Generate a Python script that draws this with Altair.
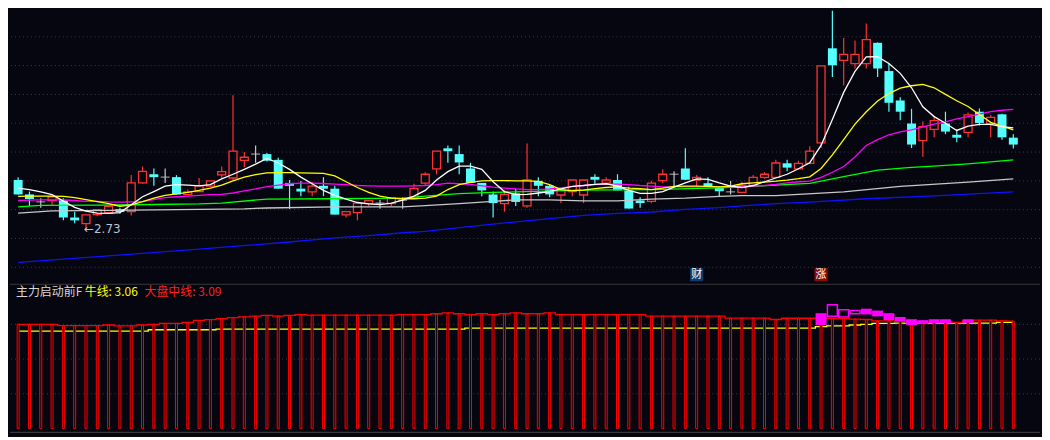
import altair as alt
import pandas as pd

BG = "#05060f"
RED = "#ff3232"
CYAN = "#54ffff"
DOJI = "#c8c8c8"
W, H_TOP, H_BOT = 1034, 272, 152
X_DOM = [-0.28, 89.92]
Y_TOP = [2.55, 3.49]
Y_BOT = [-0.193, 4.171]

# ---- daily candles (price) ----
open_ = [2.903, 2.853, 2.827, 2.832, 2.833, 2.773, 2.752, 2.783, 2.790, 2.802,
         2.793, 2.893, 2.923, 2.913, 2.913, 2.852, 2.863, 2.882, 2.921, 2.910,
         2.971, 2.993, 2.993, 2.973, 2.893, 2.873, 2.862, 2.883, 2.873, 2.782,
         2.790, 2.821, 2.823, 2.821, 2.833, 2.840, 2.892, 2.942, 3.013, 2.993,
         2.943, 2.893, 2.853, 2.821, 2.857, 2.813, 2.900, 2.883, 2.851, 2.863,
         2.851, 2.914, 2.892, 2.903, 2.867, 2.832, 2.829, 2.901, 2.923, 2.943,
         2.903, 2.892, 2.876, 2.862, 2.860, 2.884, 2.912, 2.912, 2.961, 2.942,
         2.961, 3.032, 3.360, 3.318, 3.307, 3.307, 3.379, 3.281, 3.179, 3.099,
         3.040, 3.079, 3.099, 3.060, 3.068, 3.140, 3.099, 3.131, 3.050]
close = [2.853, 2.837, 2.827, 2.845, 2.773, 2.763, 2.782, 2.800, 2.812, 2.792,
         2.893, 2.933, 2.913, 2.913, 2.853, 2.862, 2.883, 2.900, 2.932, 3.003,
         2.982, 2.993, 2.970, 2.873, 2.883, 2.863, 2.882, 2.873, 2.783, 2.793,
         2.823, 2.832, 2.823, 2.842, 2.833, 2.873, 2.923, 3.003, 3.003, 2.964,
         2.893, 2.867, 2.823, 2.853, 2.827, 2.903, 2.883, 2.853, 2.868, 2.903,
         2.903, 2.904, 2.903, 2.867, 2.804, 2.823, 2.892, 2.923, 2.923, 2.904,
         2.912, 2.879, 2.864, 2.862, 2.884, 2.912, 2.923, 2.962, 2.946, 2.961,
         3.003, 3.299, 3.301, 3.339, 3.339, 3.390, 3.290, 3.171, 3.140, 3.026,
         3.088, 3.109, 3.071, 3.050, 3.129, 3.101, 3.120, 3.051, 3.026]
high = [2.913, 2.863, 2.840, 2.845, 2.840, 2.793, 2.782, 2.800, 2.812, 2.807,
        2.920, 2.950, 2.943, 2.943, 2.920, 2.870, 2.910, 2.900, 2.950, 3.197,
        3.000, 3.023, 2.997, 2.980, 2.903, 2.900, 2.897, 2.913, 2.883, 2.793,
        2.823, 2.833, 2.834, 2.843, 2.843, 2.890, 2.930, 3.003, 3.023, 3.023,
        2.963, 2.893, 2.863, 2.867, 2.873, 3.030, 2.913, 2.887, 2.870, 2.903,
        2.903, 2.923, 2.913, 2.923, 2.880, 2.843, 2.900, 2.940, 2.933, 3.013,
        2.920, 2.913, 2.880, 2.900, 2.897, 2.920, 2.931, 2.973, 2.973, 2.970,
        3.020, 3.299, 3.490, 3.396, 3.387, 3.446, 3.380, 3.307, 3.190, 3.150,
        3.107, 3.126, 3.140, 3.079, 3.137, 3.151, 3.129, 3.133, 3.062]
low = [2.853, 2.813, 2.807, 2.817, 2.763, 2.753, 2.730, 2.777, 2.790, 2.787,
       2.780, 2.890, 2.883, 2.893, 2.853, 2.850, 2.863, 2.880, 2.907, 2.903,
       2.947, 2.963, 2.967, 2.873, 2.803, 2.847, 2.847, 2.847, 2.783, 2.773,
       2.763, 2.813, 2.803, 2.813, 2.803, 2.840, 2.883, 2.923, 2.963, 2.923,
       2.893, 2.847, 2.773, 2.793, 2.813, 2.807, 2.847, 2.843, 2.823, 2.847,
       2.823, 2.890, 2.890, 2.867, 2.804, 2.807, 2.823, 2.893, 2.880, 2.903,
       2.880, 2.877, 2.847, 2.853, 2.860, 2.883, 2.907, 2.910, 2.933, 2.940,
       2.960, 3.014, 3.260, 3.231, 3.290, 3.290, 3.260, 3.140, 3.110, 3.014,
       2.984, 3.051, 3.062, 3.034, 3.051, 3.092, 3.051, 3.043, 3.012]

# ---- moving averages (price), one value per candle ----
ma_white = [2.875, 2.870, 2.862, 2.852, 2.830, 2.808, 2.795, 2.788, 2.787, 2.790,
            2.817, 2.845, 2.863, 2.882, 2.887, 2.885, 2.883, 2.887, 2.907, 2.923,
            2.940, 2.958, 2.978, 2.962, 2.940, 2.913, 2.890, 2.867, 2.850, 2.837,
            2.825, 2.820, 2.818, 2.823, 2.833, 2.847, 2.867, 2.903, 2.932, 2.951,
            2.951, 2.940, 2.897, 2.863, 2.852, 2.853, 2.858, 2.863, 2.872, 2.881,
            2.884, 2.888, 2.890, 2.882, 2.867, 2.857, 2.857, 2.863, 2.878, 2.893,
            2.907, 2.905, 2.893, 2.882, 2.877, 2.884, 2.897, 2.910, 2.923, 2.942,
            2.963, 3.023, 3.113, 3.207, 3.280, 3.330, 3.331, 3.307, 3.273, 3.223,
            3.157, 3.123, 3.100, 3.075, 3.090, 3.096, 3.096, 3.088, 3.084]
ma_yellow = [2.846, 2.847, 2.847, 2.847, 2.846, 2.842, 2.835, 2.828, 2.821, 2.812,
             2.817, 2.828, 2.840, 2.850, 2.855, 2.860, 2.867, 2.875, 2.885, 2.900,
             2.913, 2.922, 2.928, 2.929, 2.929, 2.928, 2.927, 2.926, 2.917, 2.897,
             2.877, 2.860, 2.847, 2.840, 2.838, 2.838, 2.840, 2.847, 2.870, 2.887,
             2.895, 2.900, 2.901, 2.901, 2.900, 2.900, 2.898, 2.887, 2.870, 2.866,
             2.868, 2.873, 2.877, 2.879, 2.875, 2.873, 2.870, 2.875, 2.881, 2.882,
             2.882, 2.881, 2.879, 2.882, 2.890, 2.893, 2.896, 2.899, 2.903, 2.908,
             2.914, 2.943, 2.990, 3.043, 3.097, 3.140, 3.177, 3.203, 3.222, 3.230,
             3.235, 3.223, 3.200, 3.178, 3.158, 3.130, 3.103, 3.090, 3.077]
ma_magenta = [2.832, 2.833, 2.834, 2.834, 2.834, 2.832, 2.829, 2.829, 2.827, 2.826,
              2.827, 2.828, 2.835, 2.842, 2.845, 2.847, 2.850, 2.852, 2.853, 2.858,
              2.865, 2.872, 2.880, 2.885, 2.890, 2.892, 2.892, 2.891, 2.889, 2.887,
              2.884, 2.883, 2.882, 2.882, 2.882, 2.883, 2.884, 2.887, 2.892, 2.890,
              2.888, 2.883, 2.878, 2.875, 2.872, 2.870, 2.870, 2.872, 2.876, 2.880,
              2.884, 2.887, 2.889, 2.889, 2.887, 2.884, 2.882, 2.879, 2.879, 2.879,
              2.879, 2.879, 2.879, 2.880, 2.881, 2.882, 2.884, 2.888, 2.893, 2.897,
              2.899, 2.912, 2.930, 2.950, 2.983, 3.023, 3.043, 3.060, 3.070, 3.077,
              3.087, 3.097, 3.105, 3.115, 3.123, 3.132, 3.140, 3.145, 3.148]
# slow averages read at a few candles
green_idx = [0, 2, 7, 12, 16, 18, 22, 28, 34, 36, 39, 42, 44, 50, 56, 62, 67, 70, 73, 76, 79, 81, 84, 88]
ma_green = [2.810, 2.815, 2.816, 2.818, 2.820, 2.823, 2.837, 2.838, 2.840, 2.847, 2.856, 2.860,
            2.862, 2.868, 2.870, 2.876, 2.885, 2.891, 2.915, 2.937, 2.947, 2.951, 2.959, 2.973]
gray_idx = [0, 3, 8, 20, 22, 28, 34, 36, 39, 42, 44, 47, 50, 53, 56, 59, 62, 64, 67, 73, 78, 84, 88]
ma_gray = [2.788, 2.796, 2.798, 2.803, 2.806, 2.810, 2.810, 2.814, 2.821, 2.829, 2.834, 2.834,
           2.831, 2.831, 2.837, 2.840, 2.846, 2.849, 2.849, 2.862, 2.881, 2.896, 2.907]
blue_idx = [0, 8, 16, 24, 28, 31, 34, 36, 39, 42, 44, 50, 53, 56, 59, 62, 64, 67, 70, 75, 81, 88]
ma_blue = [2.617, 2.640, 2.663, 2.688, 2.702, 2.710, 2.720, 2.725, 2.738, 2.750, 2.758,
           2.780, 2.787, 2.792, 2.801, 2.807, 2.813, 2.821, 2.826, 2.838, 2.848, 2.862]

grid_top = [2.6, 2.7, 2.8, 2.9, 3.0, 3.1, 3.2, 3.3, 3.4]
events_idx = [60, 71]
events_txt = ["财", "涨"]
events_col = ["#0c3c70", "#8c0a0a"]

# ---- lower indicator panel ----
dapan = ([3.003] * 4 + [2.964] * 4 + [2.983, 2.956, 2.956, 2.983, 3.003, 3.030, 3.030, 3.058,
         3.113, 3.135, 3.169, 3.196, 3.218, 3.240, 3.260, 3.240, 3.260, 3.279]
         + [3.27] * 8 + [3.279, 3.279, 3.279, 3.307, 3.334, 3.307, 3.279, 3.307, 3.279, 3.307,
         3.334, 3.307, 3.307, 3.334] + [3.28] * 8 + [3.24] * 7 + [3.18] * 4
         + [3.141, 3.177, 3.177, 3.177, 3.177, 3.169, 3.169, 3.149, 3.141, 3.102, 3.102, 3.086,
            3.066, 3.058, 3.058, 3.058, 3.058, 3.102, 3.122, 3.122, 3.102, 3.09])
bull = ([2.804] * 12 + [2.845] * 6 + [2.865] * 22 + [2.892] * 31
        + [2.936, 2.956, 2.956, 2.983, 3.003, 3.030, 3.030] + [3.039] * 9 + [3.06, 3.06])
box_idx = [71, 72, 73, 74, 75, 76, 77, 78, 79, 80, 81, 82, 84]
box_top = [3.323, 3.564, 3.425, 3.398, 3.453, 3.398, 3.323, 3.213, 3.149, 3.122, 3.149, 3.149, 3.149]
box_bot = [2.983, 3.232, 3.213, 3.307, 3.287, 3.232, 3.122, 3.094, 2.983, 3.011, 3.030, 3.030, 3.047]
box_fill = [1, 0, 0, 0, 1, 1, 1, 1, 1, 1, 1, 1, 1]
grid_bot = [1, 2, 3]

idx = list(range(len(open_)))
cd = pd.DataFrame({"i": idx, "o": open_, "h": high, "l": low, "c": close})
up = cd[cd.c > cd.o]
dn = cd[cd.c < cd.o]
fl = cd[cd.c == cd.o]

XS = alt.Scale(domain=X_DOM, nice=False, zero=False)
YT = alt.Scale(domain=Y_TOP, nice=False, zero=False)
YB = alt.Scale(domain=Y_BOT, nice=False, zero=False)


def X(f="i"):
    return alt.X(f"{f}:Q", scale=XS, axis=None)


def YTOP(f):
    return alt.Y(f"{f}:Q", scale=YT, axis=None)


def YBOT(f):
    return alt.Y(f"{f}:Q", scale=YB, axis=None)


# --- top panel
grid_t = alt.Chart(pd.DataFrame({"v": grid_top})).mark_rule(
    color="#3c3c44", strokeDash=[1, 3], strokeWidth=1).encode(y=YTOP("v"))

wick_up = alt.Chart(up).mark_rule(color=RED, strokeWidth=1.2).encode(x=X(), y=YTOP("h"), y2="l:Q")
wick_dn = alt.Chart(dn).mark_rule(color=CYAN, strokeWidth=1.2).encode(x=X(), y=YTOP("h"), y2="l:Q")
wick_fl = alt.Chart(fl).mark_rule(color=DOJI, strokeWidth=1.2).encode(x=X(), y=YTOP("h"), y2="l:Q")
body_up = alt.Chart(up).mark_bar(size=8, fill=BG, stroke=RED, strokeWidth=1.3).encode(
    x=X(), y=YTOP("o"), y2="c:Q")
body_dn = alt.Chart(dn).mark_bar(size=9, color=CYAN).encode(x=X(), y=YTOP("o"), y2="c:Q")
body_fl = alt.Chart(fl).mark_tick(orient="horizontal", size=9, thickness=1.3, color=DOJI).encode(
    x=X(), y=YTOP("o"))

ma_rows = []
for name, xs, vals in [("blue", blue_idx, ma_blue), ("gray", gray_idx, ma_gray),
                       ("green", green_idx, ma_green), ("magenta", idx, ma_magenta),
                       ("yellow", idx, ma_yellow), ("white", idx, ma_white)]:
    for a, b in zip(xs, vals):
        ma_rows.append({"s": name, "i": a, "v": b})
ma_df = pd.DataFrame(ma_rows)
ma_lines = alt.Chart(ma_df).mark_line(strokeWidth=1.3).encode(
    x=X(), y=YTOP("v"),
    color=alt.Color("s:N", legend=None, scale=alt.Scale(
        domain=["blue", "gray", "green", "magenta", "yellow", "white"],
        range=["#1010ff", "#c8c8c8", "#00ff00", "#ff00ff", "#ffff00", "#ffffff"])),
    order=alt.Order("i:Q"))

lo_i = low.index(min(low))
min_lbl = alt.Chart(pd.DataFrame({"i": [lo_i], "v": [min(low)], "t": [f"←{min(low):.2f}"]})).mark_text(
    align="left", baseline="middle", dx=-2, dy=-1, font="DejaVu Sans", fontSize=12,
    color="#b8c2d2").encode(x=X(), y=YTOP("v"), text="t:N")

ev = pd.DataFrame({"i": events_idx, "t": events_txt, "col": events_col, "v": [2.575, 2.575]})
ev_bg = alt.Chart(ev).mark_square(size=175, opacity=1, filled=True).encode(
    x=X(), y=YTOP("v"), color=alt.Color("col:N", scale=None, legend=None))
ev_tx = alt.Chart(ev).mark_text(font="Noto Sans CJK SC", fontSize=11, color="#ffffff",
                                baseline="middle", align="center").encode(
    x=X(), y=YTOP("v"), text="t:N")

top = alt.layer(grid_t, wick_up, wick_dn, wick_fl, body_up, body_dn, body_fl, ma_lines,
                min_lbl, ev_bg, ev_tx).properties(width=W, height=H_TOP)

# --- bottom panel
bd = pd.DataFrame({"i": idx, "d": dapan, "b": bull})
grid_b = alt.Chart(pd.DataFrame({"v": grid_bot})).mark_rule(
    color="#3c3c44", strokeDash=[1, 3], strokeWidth=1).encode(y=YBOT("v"))
sep = alt.Chart(pd.DataFrame({"v": [4.157, -0.11]})).mark_rule(
    color="#3a3a3a", strokeWidth=1.2).encode(y=YBOT("v"))
bull_line = alt.Chart(bd).mark_line(interpolate="step", color="#ffff00", strokeWidth=1.3).encode(
    x=X(), y=YBOT("b"))
bars = alt.Chart(bd).mark_bar(size=2, fill=BG, stroke="#ff0000", strokeWidth=1).encode(
    x=X(), y=YBOT("d"), y2=alt.datum(0))
dapan_line = alt.Chart(bd).mark_line(interpolate="step", color="#ff0000", strokeWidth=1.3).encode(
    x=X(), y=YBOT("d"))
bx = pd.DataFrame({"i": box_idx, "t": box_top, "b": box_bot, "f": box_fill})
box_f = alt.Chart(bx[bx.f == 1]).mark_bar(size=11, color="#ff00ff").encode(
    x=X(), y=YBOT("t"), y2="b:Q")
box_h = alt.Chart(bx[bx.f == 0]).mark_bar(size=10, fill=BG, stroke="#ff00ff", strokeWidth=1.5).encode(
    x=X(), y=YBOT("t"), y2="b:Q")

labels = pd.DataFrame({
    "t": ["主力启动前F", f"牛线: {bull[-1]:.2f}", f"大盘中线: {dapan[-1]:.2f}"],
    "x": [6, 75, 135], "c": ["#d8d8d8", "#ffff00", "#ff2020"]})
lbl = alt.Chart(labels).mark_text(align="left", baseline="middle", font="Noto Sans CJK SC",
                                  fontSize=12).encode(
    x=alt.X("x:Q", scale=None, axis=None), y=alt.value(8), text="t:N",
    color=alt.Color("c:N", scale=None, legend=None))

bottom = alt.layer(grid_b, sep, bull_line, bars, dapan_line, box_f, box_h, lbl).properties(
    width=W, height=H_BOT)

chart = alt.vconcat(top, bottom, spacing=0).properties(
    padding=0, background=BG).configure_view(stroke="transparent")

chart.save("out.html", embed_options={"renderer": "svg", "actions": False})
